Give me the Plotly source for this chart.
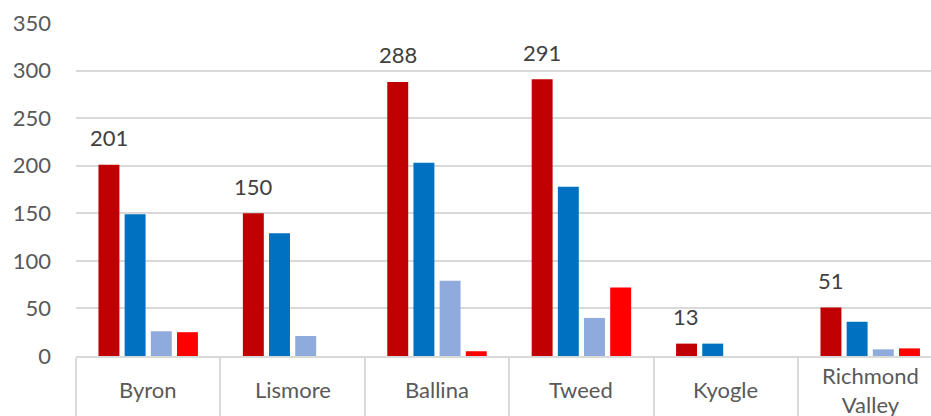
import plotly.graph_objects as go

# Council areas and the four series per area
categories = ["Byron", "Lismore", "Ballina", "Tweed", "Kyogle", "Richmond<br>Valley"]
series_a = [201, 150, 288, 291, 13, 51]   # dark red, labelled
series_b = [149, 129, 203, 178, 13, 36]   # blue
series_c = [26, 21, 79, 40, 0, 7]         # light blue
series_d = [25, 0, 5, 72, 0, 8]           # red
y_ticks = [0, 50, 100, 150, 200, 250, 300, 350]

colors = ["#C00000", "#0070C0", "#8FAADC", "#FF0000"]
font_family = "Lato, 'Open Sans', sans-serif"
grid_color = "#D9D9D9"

fig = go.Figure()
for vals, col in zip([series_a, series_b, series_c, series_d], colors):
    fig.add_trace(go.Bar(
        x=categories, y=vals,
        marker=dict(color=col, line=dict(width=0)),
        showlegend=False,
        hoverinfo="skip",
    ))

# Value labels above the first series of each group
annotations = []
for cat, v in zip(categories, series_a):
    annotations.append(dict(
        x=cat, y=v, xref="x", yref="y",
        text=str(v), showarrow=False,
        xanchor="center", yanchor="middle",
        xshift=-39.5, yshift=27,
        font=dict(family=font_family, size=22, color="#404040"),
    ))

# Category labels, vertically centred under each group
for cat in categories:
    annotations.append(dict(
        x=cat, y=-0.102, xref="x", yref="paper",
        text=cat, showarrow=False,
        xanchor="center", yanchor="middle",
        font=dict(family=font_family, size=22, color="#595959"),
    ))

fig.update_layout(
    width=931, height=416,
    margin=dict(l=76, r=0, t=23, b=60, autoexpand=False),
    paper_bgcolor="white", plot_bgcolor="white",
    barmode="group", bargap=0.275, bargroupgap=0.2,
    annotations=annotations,
    xaxis=dict(
        type="category",
        range=[-0.5, 5.421],
        showline=True, linecolor=grid_color, linewidth=1.5,
        ticks="outside", tickson="boundaries", ticklen=60,
        tickcolor=grid_color, tickwidth=1.5,
        showticklabels=False, showgrid=False, zeroline=False,
        automargin=False,
    ),
    yaxis=dict(
        range=[0, 350], tickvals=y_ticks,
        showgrid=True, gridcolor=grid_color, gridwidth=1.5,
        zeroline=False, showline=False,
        ticks="", ticklabelstandoff=24, automargin=False,
        tickfont=dict(family=font_family, size=22, color="#595959"),
    ),
)

fig.write_html("out.html")
